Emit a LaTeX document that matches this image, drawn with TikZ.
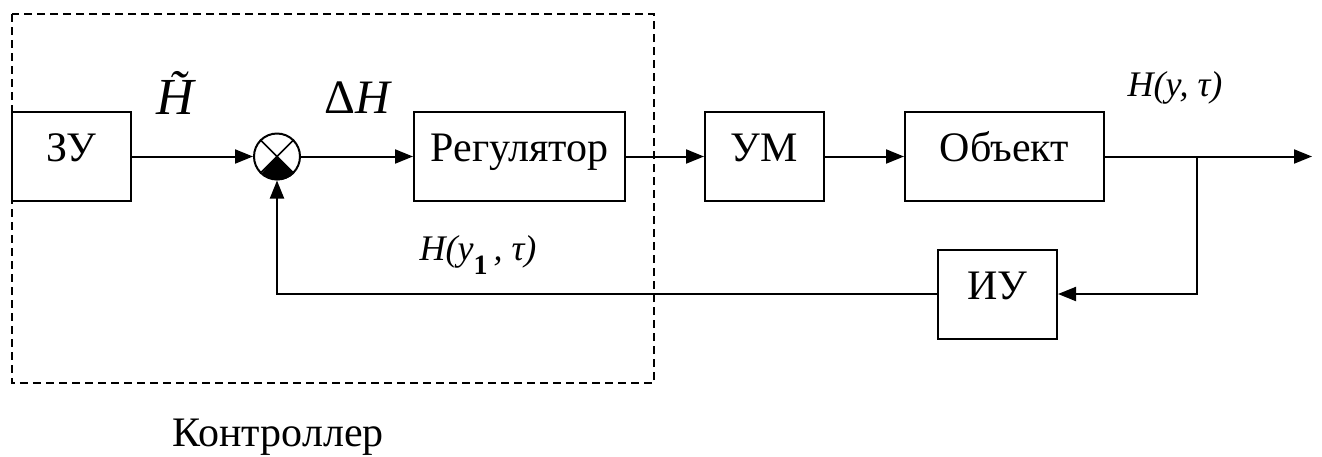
\documentclass[tikz,border=0pt]{standalone}
\usepackage{fontspec}
\setmainfont{Liberation Serif}
\usetikzlibrary{arrows.meta}
\tikzset{
  block/.style={draw, line width=1pt, minimum width=59.5pt, minimum height=44.5pt,
    text height=15pt, text depth=10pt, font=\fontsize{21}{25}\selectfont},
  flow/.style={line width=1pt, -{Triangle[length=9pt, width=7pt]}},
  sig/.style={font=\fontsize{18}{22}\selectfont\itshape},
}
\begin{document}
\begin{tikzpicture}[x=0.5pt, y=-0.5pt]
  \useasboundingbox (0, 0) rectangle (1322, 456);
  % Draw the controller boundary.
  \draw[line width=1pt, dash pattern=on 4pt off 2.5pt] (12, 14) rectangle (654, 383);
  \node[font=\fontsize{21}{25}\selectfont] (ctl) at (278, 437) {Контроллер};
  % Place the blocks of the loop.
  \node[block] (zu) at (71.5, 156.5) {ЗУ};
  \node[block, minimum width=105.5pt] (reg) at (519.5, 156.5) {Регулятор};
  \node[block] (um) at (764.5, 156.5) {УМ};
  \node[block, minimum width=99.5pt] (obj) at (1004.5, 156.5) {Объект};
  \node[block] (iu) at (997.5, 294) {ИУ};
  % Draw the comparator.
  \node[circle, draw, line width=1pt, minimum size=23pt, inner sep=0pt] (sum) at (277, 156.5) {};
  \fill (sum.center) -- (sum.-45) arc[start angle=-45, end angle=-135, radius=11.5pt] -- cycle;
  \draw[line width=0.8pt] (sum.45) -- (sum.-135) (sum.135) -- (sum.-45);
  % Forward path.
  \coordinate (br) at (1197, 156.5);
  \coordinate (out) at (1312, 156.5);
  \draw[flow] (zu) -- (sum);
  \draw[flow] (sum) -- (reg);
  \draw[flow] (reg) -- (um);
  \draw[flow] (um) -- (obj);
  \draw[flow] (obj) -- (out);
  % Feedback path.
  \draw[flow] (br) |- (iu);
  \draw[flow] (iu) -| (sum);
  % Signal labels.
  \node[font=\fontsize{26}{30}\selectfont\itshape] (hset) at (175, 93) {\~{H}};
  \node[font=\fontsize{24}{28}\selectfont] (dh) at (358, 98) {Δ\textit{H}};
  \node[sig] (hout) at (1175, 88) {H(y, τ)};
  \node[sig] (hfb) at (478, 255) {H(y\raisebox{-0.9ex}{\upshape\bfseries\fontsize{14}{16}\selectfont 1}\,, τ)};
\end{tikzpicture}
\end{document}
